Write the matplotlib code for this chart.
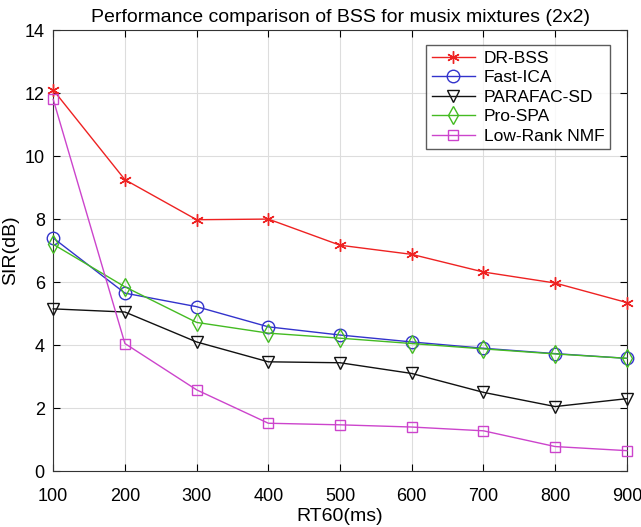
import matplotlib
matplotlib.use("Agg")
import matplotlib.pyplot as plt

rt60 = [100, 200, 300, 400, 500, 600, 700, 800, 900]
dr_bss = [12.1, 9.25, 7.98, 8.0, 7.17, 6.88, 6.32, 5.97, 5.35]
fast_ica = [7.4, 5.65, 5.22, 4.58, 4.32, 4.1, 3.9, 3.73, 3.58]
parafac = [5.15, 5.05, 4.1, 3.47, 3.44, 3.1, 2.5, 2.05, 2.3]
pro_spa = [7.2, 5.85, 4.72, 4.38, 4.22, 4.05, 3.88, 3.72, 3.58]
lr_nmf = [11.8, 4.05, 2.58, 1.52, 1.47, 1.4, 1.28, 0.78, 0.65]

plt.rcParams['font.family'] = ['Liberation Sans', 'DejaVu Sans']

fig = plt.figure(figsize=(6.41, 5.27), dpi=100)
ax = fig.add_axes([0.083, 0.106, 0.895, 0.837])

kw = dict(lw=1.0, clip_on=False, zorder=3)
ax.plot(rt60, dr_bss, color='#ee2222', marker=(6, 2, 0), markersize=9, mew=1.0, label='DR-BSS', **kw)
ax.plot(rt60, fast_ica, color='#3333cc', marker='o', markersize=9, mfc='none', label='Fast-ICA', **kw)
ax.plot(rt60, parafac, color='#111111', marker='v', markersize=9, mfc='none', label='PARAFAC-SD', **kw)
ax.plot(rt60, pro_spa, color='#44bb22', marker='d', markersize=9, mfc='none', label='Pro-SPA', **kw)
ax.plot(rt60, lr_nmf, color='#cc44cc', marker='s', markersize=7, mfc='none', label='Low-Rank NMF', **kw)

ax.set_xlim(100, 900)
ax.set_ylim(0, 14)
ax.set_xticks(rt60)
ax.set_yticks(range(0, 15, 2))
ax.grid(True, color='#dddddd', lw=0.8)
ax.tick_params(direction='in', labelsize=13, top=True, right=True, length=5)
ax.tick_params(axis='x', pad=12)
ax.tick_params(axis='y', pad=6)
for s in ax.spines.values():
    s.set_color('#333333')
ax.set_xlabel('RT60(ms)', fontsize=14, labelpad=2)
ax.set_ylabel('SIR(dB)', fontsize=14)
ax.set_title('Performance comparison of BSS for musix mixtures (2x2)', fontsize=14, pad=6)
leg = ax.legend(loc='upper right', fontsize=12.5, fancybox=False, edgecolor='#333333',
                handlelength=2.5, handletextpad=0.5, borderpad=0.3, labelspacing=0.25,
                bbox_to_anchor=(0.985, 0.985))
leg.get_frame().set_linewidth(1.0)

fig.savefig('out.png', dpi=100)
